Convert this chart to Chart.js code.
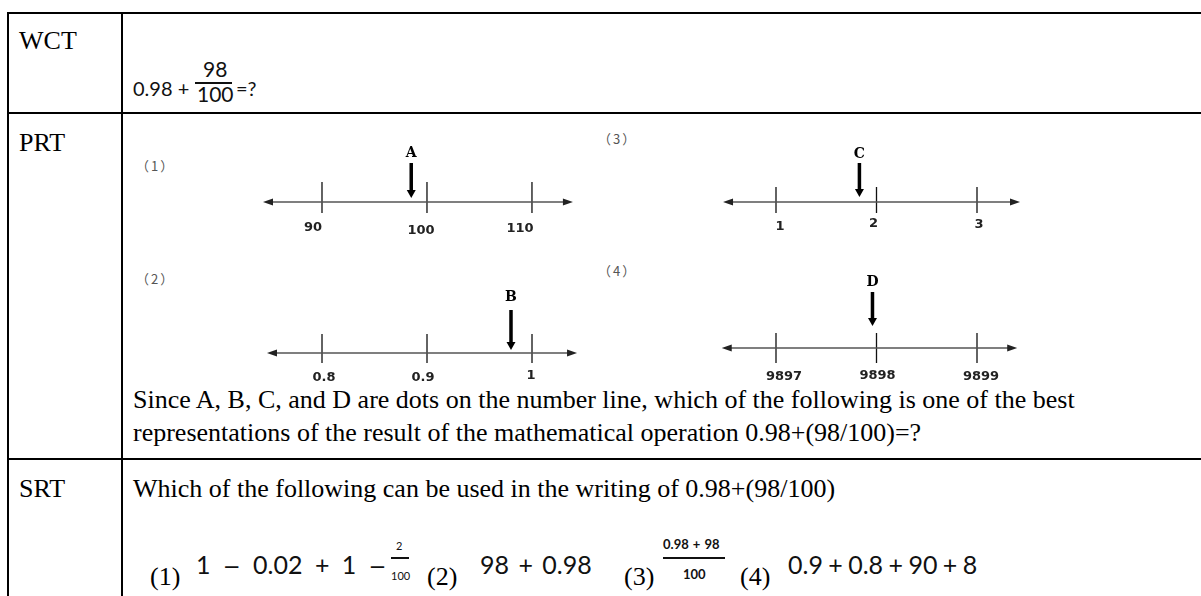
<!DOCTYPE html>
<html>
<head>
<meta charset="utf-8">
<script src="https://cdn.jsdelivr.net/npm/chart.js@4.4.1/dist/chart.umd.min.js"></script>
<style>
  html, body { margin: 0; padding: 0; background: #fff; }
  body { width: 1201px; height: 596px; position: relative; overflow: hidden;
         font-family: "Liberation Serif", "Times New Roman", serif; color: #000; }
  .hl { position: absolute; left: 7px; right: -20px; height: 2px; background: #000; }
  .vl { position: absolute; top: 12px; bottom: -20px; width: 2px; background: #000; }
  .t  { position: absolute; white-space: nowrap; font-size: 26px; line-height: 26px; }
  .m  { position: absolute; white-space: nowrap; font-family: Lato, "Liberation Sans", sans-serif;
        color: #111; line-height: 1; }
  .mn { font-family: "DejaVu Sans", sans-serif; font-size: 0.85em; }
  .q  { position: absolute; white-space: nowrap; font-family: "Noto Sans CJK SC", sans-serif;
        font-size: 13px; line-height: 13px; color: #555; letter-spacing: 2px; }
  .bar { position: absolute; height: 1.5px; background: #111; }
  canvas { position: absolute; }
</style>
</head>
<body>
  <!-- table rules -->
  <div class="hl" style="top:12px"></div>
  <div class="hl" style="top:112px"></div>
  <div class="hl" style="top:458px"></div>
  <div class="vl" style="left:7px"></div>
  <div class="vl" style="left:121px"></div>

  <!-- WCT row -->
  <div class="t" style="left:19px;top:28px">WCT</div>
  <div class="m" style="left:133px;top:78px;font-size:20px">0.98 +</div>
  <div class="m" style="left:203px;top:58px;font-size:21px">98</div>
  <div class="bar" style="left:195px;top:82px;width:37px"></div>
  <div class="m" style="left:197px;top:83px;font-size:21px">100</div>
  <div class="m" style="left:236px;top:78px;font-size:20px">=?</div>

  <!-- PRT row -->
  <div class="t" style="left:19px;top:130px">PRT</div>
  <div class="q" style="left:136px;top:159px">（1）</div>
  <div class="q" style="left:598px;top:132px">（3）</div>
  <div class="q" style="left:136px;top:272px">（2）</div>
  <div class="q" style="left:598px;top:264px">（4）</div>
  <div class="t" style="left:133px;top:387px">Since A, B, C, and D are dots on the number line, which of the following is one of the best</div>
  <div class="t" style="left:133px;top:420px">representations of the result of the mathematical operation 0.98+(98/100)=?</div>

  <!-- SRT row -->
  <div class="t" style="left:19px;top:476px">SRT</div>
  <div class="t" style="left:133px;top:476px">Which of the following can be used in the writing of 0.98+(98/100)</div>
  <div class="t" style="left:150px;top:564px">(1)</div>
  <div class="m" style="left:196px;top:552px;font-size:25px;word-spacing:6px">1 <span class="mn">−</span> 0.02 + 1 <span class="mn">−</span></div>
  <div class="m" style="left:396px;top:540px;font-size:11px">2</div>
  <div class="bar" style="left:391px;top:557px;width:18px"></div>
  <div class="m" style="left:391px;top:570px;font-size:11px">100</div>
  <div class="t" style="left:427px;top:564px">(2)</div>
  <div class="m" style="left:480px;top:552px;font-size:25px;word-spacing:3px">98 + 0.98</div>
  <div class="t" style="left:624px;top:564px">(3)</div>
  <div class="m" style="left:663px;top:538px;font-size:13px;font-weight:700;word-spacing:1px">0.98 + 98</div>
  <div class="bar" style="left:663px;top:557px;width:62px"></div>
  <div class="m" style="left:683px;top:568px;font-size:13px;font-weight:700">100</div>
  <div class="t" style="left:740px;top:564px">(4)</div>
  <div class="m" style="left:788px;top:552px;font-size:25px;word-spacing:-1px">0.9 + 0.8 + 90 + 8</div>

  <canvas id="nl1" width="360" height="130" style="left:240px;top:122px"></canvas>
  <canvas id="nl3" width="360" height="130" style="left:700px;top:122px"></canvas>
  <canvas id="nl2" width="360" height="130" style="left:240px;top:273px"></canvas>
  <canvas id="nl4" width="360" height="130" style="left:700px;top:268px"></canvas>

<script>
// number line data
const line1Ticks = [90, 100, 110];
const line1Labels = ['90', '100', '110'];
const line1Ends = [84.38, 113.9];
const line1Point = 98.5;

const line2Ticks = [0.8, 0.9, 1];
const line2Labels = ['0.8', '0.9', '1'];
const line2Ends = [0.7476, 1.0429];
const line2Point = 0.98;

const line3Ticks = [1, 2, 3];
const line3Labels = ['1', '2', '3'];
const line3Ends = [0.473, 3.428];
const line3Point = 1.83;

const line4Ticks = [9897, 9898, 9899];
const line4Labels = ['9897', '9898', '9899'];
const line4Ends = [9896.46, 9899.4];
const line4Point = 9897.96;

const pointNames = ['A', 'B', 'C', 'D'];

// layout / style for each number line (y in px above the line)
const lineStyles = [
  { id: 'nl1', xRange: [82.19, 116.48], tickUp: 20, tickDown: 11, arrowTop: 39, arrowTip: 4, letterY: 49,
    labelDx: [-9, -6, -12], labelY: [-26, -29, -27] },
  { id: 'nl2', xRange: [0.7219, 1.06476], tickUp: 19, tickDown: 10, arrowTop: 43, arrowTip: 3, letterY: 56,
    labelDx: [2, -4, -1], labelY: [-25, -25, -23] },
  { id: 'nl3', xRange: [0.24378, 3.82587], tickUp: 15, tickDown: 11, arrowTop: 39, arrowTip: 5, letterY: 48,
    labelDx: [4, -3, 2], labelY: [-25, -22, -23] },
  { id: 'nl4', xRange: [9896.24378, 9899.82587], tickUp: 15, tickDown: 15, arrowTop: 56, arrowTip: 22, letterY: 66,
    labelDx: [8, 1, 4], labelY: [-29, -28, -29] }
];

const numberLinePlugin = {
  id: 'numberLine',
  afterDatasetsDraw(chart, args, opts) {
    const { ctx, scales: { x, y } } = chart;
    const st = opts.style;
    const y0 = y.getPixelForValue(0);
    ctx.save();
    // arrow heads at both ends of the axis
    const xl = x.getPixelForValue(opts.ends[0]);
    const xr = x.getPixelForValue(opts.ends[1]);
    ctx.fillStyle = '#222';
    ctx.beginPath();
    ctx.moveTo(xl, y0); ctx.lineTo(xl + 10, y0 - 3.5); ctx.lineTo(xl + 10, y0 + 3.5); ctx.closePath();
    ctx.moveTo(xr, y0); ctx.lineTo(xr - 10, y0 - 3.5); ctx.lineTo(xr - 10, y0 + 3.5); ctx.closePath();
    ctx.fill();
    // pointer head
    const px = x.getPixelForValue(opts.point);
    const tip = y.getPixelForValue(st.arrowTip);
    const base = y.getPixelForValue(st.arrowTip + 8);
    ctx.fillStyle = '#000';
    ctx.beginPath();
    ctx.moveTo(px, tip); ctx.lineTo(px - 4.5, base); ctx.lineTo(px + 4.5, base); ctx.closePath();
    ctx.fill();
    // point letter
    ctx.textAlign = 'center';
    ctx.textBaseline = 'middle';
    ctx.font = 'bold 14px "DejaVu Serif"';
    ctx.fillText(opts.name, px, y.getPixelForValue(st.letterY));
    // tick labels
    ctx.font = 'bold 13px "DejaVu Sans"';
    ctx.fillStyle = '#222';
    opts.ticks.forEach((t, i) => {
      ctx.fillText(opts.labels[i], x.getPixelForValue(t) + st.labelDx[i], y.getPixelForValue(st.labelY[i]));
    });
    ctx.restore();
  }
};

function drawLine(style, ticks, labels, ends, point, name) {
  const tickPts = [];
  ticks.forEach(t => {
    tickPts.push({ x: t, y: -style.tickDown }, { x: t, y: style.tickUp }, { x: t, y: null });
  });
  new Chart(document.getElementById(style.id), {
    type: 'line',
    data: {
      datasets: [
        { data: [{ x: ends[0] + (ends[1] - ends[0]) * 0.02, y: 0 }, { x: ends[1] - (ends[1] - ends[0]) * 0.02, y: 0 }],
          borderColor: '#555', borderWidth: 1.6, pointRadius: 0 },
        { data: tickPts, borderColor: '#111', borderWidth: 1.3, pointRadius: 0, spanGaps: false },
        { data: [{ x: point, y: style.arrowTop }, { x: point, y: style.arrowTip + 7 }],
          borderColor: '#000', borderWidth: 3.5, pointRadius: 0, borderCapStyle: 'butt' }
      ]
    },
    options: {
      animation: false,
      responsive: false,
      events: [],
      layout: { padding: 0 },
      plugins: {
        legend: { display: false },
        tooltip: { enabled: false },
        numberLine: { style, ticks, labels, ends, point, name }
      },
      scales: {
        x: { type: 'linear', display: false, bounds: 'data', min: style.xRange[0], max: style.xRange[1] },
        y: { type: 'linear', display: false, bounds: 'data', min: -50, max: 80 }
      }
    },
    plugins: [numberLinePlugin]
  });
}

drawLine(lineStyles[0], line1Ticks, line1Labels, line1Ends, line1Point, pointNames[0]);
drawLine(lineStyles[1], line2Ticks, line2Labels, line2Ends, line2Point, pointNames[1]);
drawLine(lineStyles[2], line3Ticks, line3Labels, line3Ends, line3Point, pointNames[2]);
drawLine(lineStyles[3], line4Ticks, line4Labels, line4Ends, line4Point, pointNames[3]);
</script>
</body>
</html>
